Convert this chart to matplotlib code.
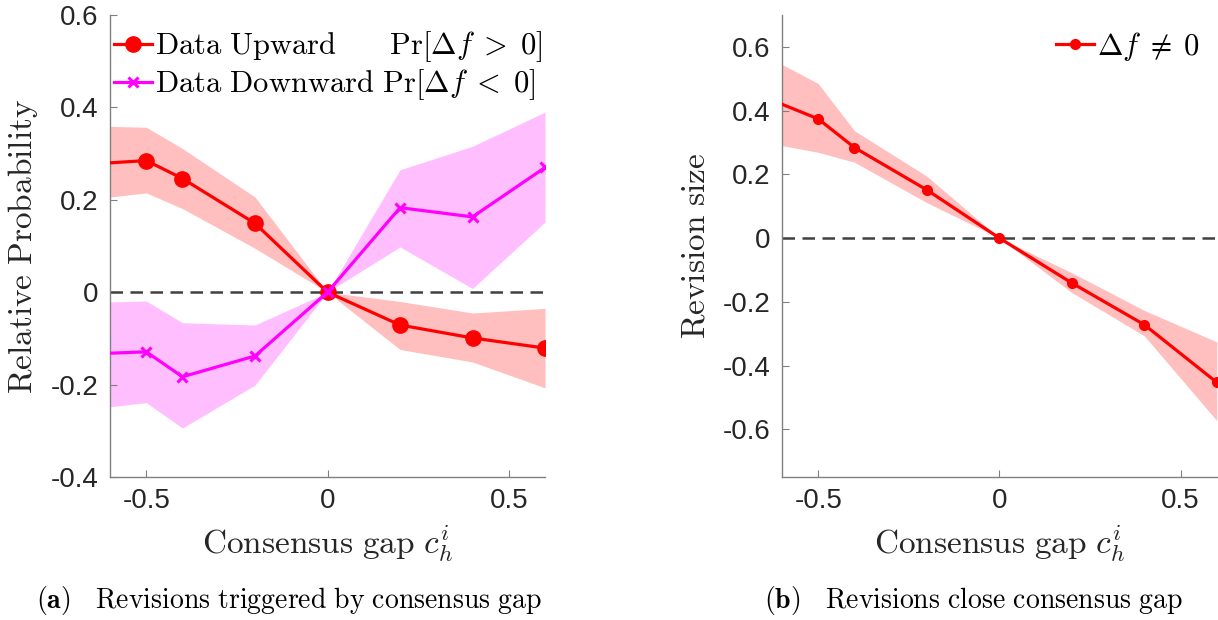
import matplotlib
matplotlib.use('Agg')
import matplotlib.pyplot as plt
import numpy as np

plt.rcParams['mathtext.fontset'] = 'cm'
plt.rcParams['font.family'] = ['Liberation Sans', 'DejaVu Sans']

# Consensus gap grid (first point lies left of the visible range)
gap = [-0.7, -0.5, -0.4, -0.2, 0.0, 0.2, 0.4, 0.6]

# (a) relative probability of upward / downward revisions
up_mean = [0.275, 0.285, 0.246, 0.149, 0.0, -0.071, -0.099, -0.121]
up_lo = [0.197, 0.215, 0.181, 0.095, 0.0, -0.124, -0.151, -0.207]
up_hi = [0.361, 0.357, 0.311, 0.206, 0.0, -0.020, -0.045, -0.035]

down_mean = [-0.135, -0.129, -0.183, -0.138, 0.0, 0.183, 0.163, 0.270]
down_lo = [-0.257, -0.239, -0.294, -0.201, 0.0, 0.098, 0.008, 0.152]
down_hi = [-0.023, -0.019, -0.066, -0.071, 0.0, 0.265, 0.316, 0.390]

# (b) revision size
rev_mean = [0.466, 0.374, 0.284, 0.151, 0.0, -0.141, -0.272, -0.453]
rev_lo = [0.311, 0.269, 0.238, 0.111, 0.0, -0.171, -0.307, -0.573]
rev_hi = [0.605, 0.485, 0.337, 0.194, 0.0, -0.109, -0.227, -0.326]

red = '#FF0000'
mag = '#FF00FF'
axcol = '#262626'
tick_fs = 20
lab_fs = 24
leg_fs = 22


def style_axes(ax):
    for s in ['top', 'right']:
        ax.spines[s].set_visible(False)
    for s in ['left', 'bottom']:
        ax.spines[s].set_color('#808080')
        ax.spines[s].set_linewidth(1.0)
    ax.tick_params(direction='in', length=5, width=0.8, color='#808080',
                   labelsize=tick_fs, labelcolor=axcol, pad=8)
    ax.set_xlim(-0.6, 0.6)
    ax.set_xticks([-0.5, 0, 0.5])
    ax.set_xticklabels(['-0.5', '0', '0.5'])
    ax.set_xlabel(r'$\mathrm{Consensus\ gap}\ c_h^i$', fontsize=lab_fs,
                  color=axcol, labelpad=6)


fig = plt.figure(figsize=(12.18, 6.2), dpi=100)

# ---- panel (a)
ax1 = fig.add_axes([0.0903, 0.2306, 0.3572, 0.7452])
ax1.fill_between(gap, up_lo, up_hi, color=red, alpha=0.25, lw=0)
ax1.fill_between(gap, down_lo, down_hi, color=mag, alpha=0.25, lw=0)
ax1.axhline(0, color='#404040', ls=(0, (5, 3)), lw=1.8, zorder=2)
l1, = ax1.plot(gap, up_mean, '-o', color=red, lw=2.3, ms=11, zorder=3)
l2, = ax1.plot(gap, down_mean, '-x', color=mag, lw=2.3, ms=7, mew=2.2, zorder=4)
style_axes(ax1)
ax1.set_ylim(-0.4, 0.6)
ax1.set_yticks([-0.4, -0.2, 0, 0.2, 0.4, 0.6])
ax1.set_yticklabels(['-0.4', '-0.2', '0', '0.2', '0.4', '0.6'])
ax1.set_ylabel(r'$\mathrm{Relative\ Probability}$', fontsize=lab_fs,
               color=axcol, labelpad=8)
ax1.legend([l1, l2],
           [r'$\mathrm{Data\ Upward}\quad\ \ \ \mathrm{Pr}[\Delta f\;>\;0]$',
            r'$\mathrm{Data\ Downward}\ \mathrm{Pr}[\Delta f\;<\;0]$'],
           loc='upper left', bbox_to_anchor=(-0.02, 0.995), frameon=False,
           fontsize=leg_fs, handlelength=1.25, handletextpad=0.1,
           labelspacing=0.1, borderaxespad=0)

# ---- panel (b)
ax2 = fig.add_axes([0.642, 0.2306, 0.357, 0.7452])
ax2.fill_between(gap, rev_lo, rev_hi, color=red, alpha=0.25, lw=0)
ax2.axhline(0, color='#404040', ls=(0, (5, 3)), lw=1.8, zorder=2)
l3, = ax2.plot(gap, rev_mean, '-o', color=red, lw=2.3, ms=7, zorder=3)
style_axes(ax2)
ax2.set_ylim(-0.75, 0.7)
ax2.set_yticks([-0.6, -0.4, -0.2, 0, 0.2, 0.4, 0.6])
ax2.set_yticklabels(['-0.6', '-0.4', '-0.2', '0', '0.2', '0.4', '0.6'])
ax2.set_ylabel(r'$\mathrm{Revision\ size}$', fontsize=lab_fs,
               color=axcol, labelpad=8)
ax2.legend([l3], [r'$\Delta f\;\neq\;0$'], loc='upper right',
           bbox_to_anchor=(0.99, 0.995), frameon=False, fontsize=leg_fs,
           handlelength=1.25, handletextpad=0.1, borderaxespad=0)

# captions
fig.text(0.237, 0.032,
         r'$\mathbf{(a)}\ \ \ \mathrm{Revisions\ triggered\ by\ consensus\ gap}$',
         ha='center', va='center', fontsize=20)
fig.text(0.799, 0.032,
         r'$\mathbf{(b)}\ \ \ \mathrm{Revisions\ close\ consensus\ gap}$',
         ha='center', va='center', fontsize=20)

fig.savefig('out.png', dpi=100)
